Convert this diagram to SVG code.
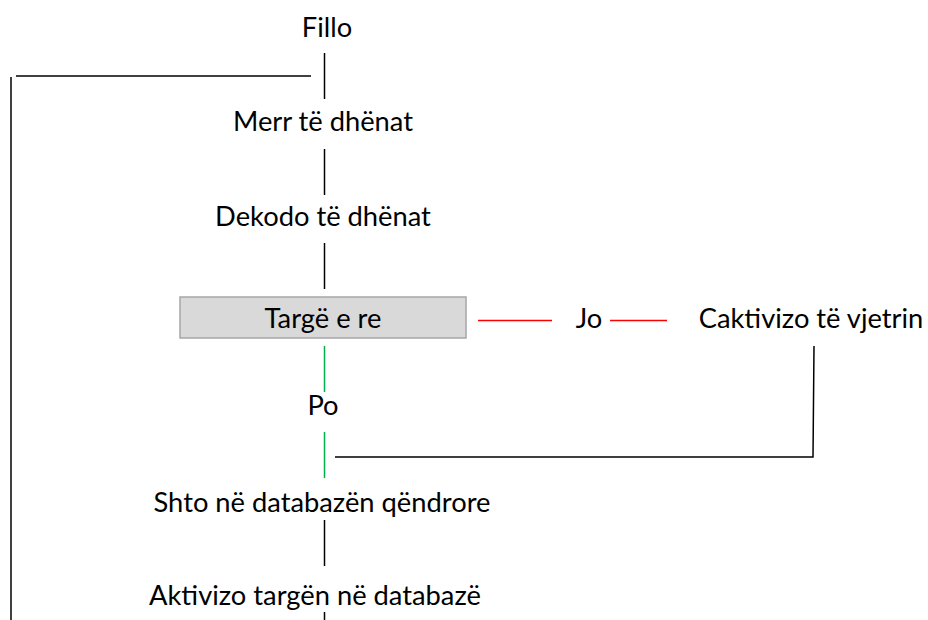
<svg xmlns="http://www.w3.org/2000/svg" width="928" height="620" viewBox="0 0 928 620">
  <style>
    .lbl { font-family: Lato, "Open Sans", "Liberation Sans", sans-serif; font-size: 27.3px; fill: #000; text-anchor: middle; }
    .ln { fill: none; stroke: #000; stroke-width: 1.5; }
    .no { stroke: #ff0000; }
    .yes { stroke: #00b050; }
  </style>
  <rect width="928" height="620" fill="#fff"/>

  <g id="connectors">
    <!-- main spine -->
    <line class="ln" x1="324.5" y1="53" x2="324.5" y2="99"/>
    <line class="ln" x1="324.5" y1="149" x2="324.5" y2="195"/>
    <line class="ln" x1="324.5" y1="243" x2="324.5" y2="289"/>
    <line class="ln yes" x1="324.5" y1="346" x2="324.5" y2="392"/>
    <line class="ln yes" x1="324.5" y1="432" x2="324.5" y2="478"/>
    <line class="ln" x1="324.5" y1="520" x2="324.5" y2="566"/>
    <line class="ln" x1="324.5" y1="612" x2="324.5" y2="620"/>
    <!-- loop back to start -->
    <line class="ln" x1="16" y1="76" x2="311" y2="76"/>
    <line class="ln" x1="11" y1="77" x2="11" y2="620"/>
    <!-- "no" branch -->
    <line class="ln no" x1="478" y1="320.5" x2="552" y2="320.5"/>
    <line class="ln no" x1="610" y1="320.5" x2="667" y2="320.5"/>
    <!-- return from deactivation -->
    <polyline class="ln" points="814,346 813,457 335,457"/>
  </g>

  <g id="start"><text class="lbl" x="327" y="37">Fillo</text></g>
  <g id="receive"><text class="lbl" x="323" y="131">Merr të dhënat</text></g>
  <g id="decode"><text class="lbl" x="323" y="226">Dekodo të dhënat</text></g>
  <g id="new-plate">
    <rect x="180" y="297" width="286" height="41" fill="#d9d9d9" stroke="#a6a6a6" stroke-width="1.5"/>
    <text class="lbl" x="323" y="328">Targë e re</text>
  </g>
  <g id="no-label"><text class="lbl" x="589" y="328">Jo</text></g>
  <g id="deactivate"><text class="lbl" x="811" y="328">Caktivizo të vjetrin</text></g>
  <g id="yes-label"><text class="lbl" x="323" y="415">Po</text></g>
  <g id="add-db"><text class="lbl" x="322" y="512">Shto në databazën qëndrore</text></g>
  <g id="activate"><text class="lbl" x="315" y="605">Aktivizo targën në databazë</text></g>
</svg>
